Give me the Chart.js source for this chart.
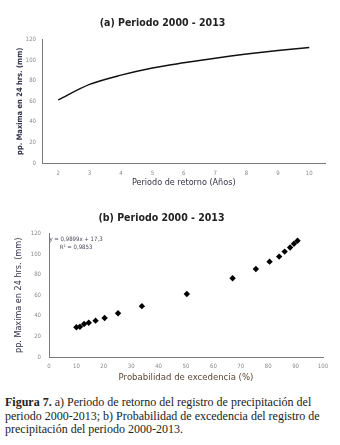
<!DOCTYPE html>
<html>
<head>
<meta charset="utf-8">
<script src="https://cdn.jsdelivr.net/npm/chart.js@4/dist/chart.umd.min.js"></script>
<style>
  body { margin: 0; background: #fff; width: 340px; height: 445px; overflow: hidden; position: relative; }
  #wrapA { position: absolute; left: 0; top: 0; width: 340px; height: 195px; }
  #wrapB { position: absolute; left: 0; top: 195px; width: 340px; height: 190px; }
  #caption {
    position: absolute; left: 5px; top: 396px; width: 335px; white-space: nowrap;
    font-family: 'Liberation Serif', serif; font-size: 12px; line-height: 13.5px; color: #222;
  }
  #caption b { font-weight: bold; }
</style>
</head>
<body>
<div id="wrapA"><canvas id="chartA"></canvas></div>
<div id="wrapB"><canvas id="chartB"></canvas></div>
<div id="caption"><b>Figura 7.</b> a) Periodo de retorno del registro de precipitación del<br>periodo 2000-2013; b) Probabilidad de excedencia del registro de<br>precipitación del periodo 2000-2013.</div>
<script>
// (a) periodo de retorno
const returnPeriods = [2, 3, 4, 5, 6, 7, 8, 9, 10]
const returnPrecip = [61.5, 76.5, 85.5, 92.5, 97.5, 102, 106, 109.5, 112.5]

// (b) probabilidad de excedencia
const exceedProb = [10, 11.3, 12.8, 14.5, 17, 20.3, 25.2, 33.9, 50.3, 67, 75.5, 80.5, 84, 86, 88, 89.4, 90.7]
const exceedPrecip = [28.9, 29.5, 32.1, 33.4, 35.4, 38, 42.6, 49.5, 61.3, 76.7, 85.6, 92.8, 97.7, 102.6, 106.6, 110.2, 113.1]

const yTicks = [0, 20, 40, 60, 80, 100, 120]
const equationLines = ['y = 0,9899x + 17,3', 'R² = 0,9853']

const narrow = "'DejaVu Sans Condensed', 'Liberation Sans Narrow', sans-serif"
const tickColor = '#8a8a8a'
const axisColor = '#7a7a7a'

Chart.defaults.font.family = narrow
Chart.defaults.animation = false

function fixWidth(w) { return function (scale) { scale.width = w } }
function fixHeight(h) { return function (scale) { scale.height = h } }

new Chart(document.getElementById('chartA'), {
  type: 'line',
  data: {
    labels: returnPeriods,
    datasets: [{
      data: returnPrecip,
      borderColor: '#111',
      borderWidth: 1.5,
      pointRadius: 0,
      tension: 0.3,
      fill: false
    }]
  },
  options: {
    responsive: true,
    maintainAspectRatio: false,
    layout: { padding: { left: 0, right: 15, top: 0, bottom: 0 } },
    scales: {
      x: {
        type: 'category',
        offset: true,
        grid: { display: false, drawTicks: false },
        border: { display: true, color: axisColor, width: 1 },
        ticks: { color: tickColor, font: { size: 6 }, padding: 6.4, maxRotation: 0 },
        title: {
          display: true,
          text: 'Periodo de retorno (Años)',
          color: '#33334a',
          font: { size: 9 },
          padding: { top: 0, bottom: 6.5 }
        },
        afterFit: fixHeight(32)
      },
      y: {
        min: 0,
        max: 120,
        afterBuildTicks: function (scale) { scale.ticks = yTicks.map(v => ({ value: v })) },
        grid: { display: false, drawTicks: false },
        border: { display: true, color: axisColor, width: 1 },
        ticks: { color: tickColor, font: { size: 6 }, padding: 6.5 },
        title: {
          display: true,
          text: 'pp. Maxima en 24 hrs. (mm)',
          color: '#33334a',
          font: { size: 7.5, weight: 'bold' },
          padding: { top: 15.5, bottom: 0 }
        },
        afterFit: fixWidth(42.5)
      }
    },
    plugins: {
      legend: { display: false },
      tooltip: { enabled: false },
      title: {
        display: true,
        text: '(a) Periodo 2000 - 2013',
        color: '#222',
        font: { size: 10.5, weight: 'bold' },
        padding: { top: 16.5, bottom: 10.6 }
      }
    }
  }
})

// regression label drawn inside plot (b)
const equationLabel = {
  id: 'equationLabel',
  afterDraw(chart) {
    const ctx = chart.ctx
    const area = chart.chartArea
    ctx.save()
    ctx.font = '6px ' + narrow
    ctx.fillStyle = '#4a4a5e'
    ctx.textAlign = 'center'
    ctx.textBaseline = 'middle'
    ctx.fillText(equationLines[0], area.left + 27, area.top + 6)
    ctx.fillText(equationLines[1], area.left + 27, area.top + 14)
    ctx.restore()
  }
}

new Chart(document.getElementById('chartB'), {
  type: 'scatter',
  data: {
    datasets: [{
      data: exceedProb.map((p, i) => ({ x: p, y: exceedPrecip[i] })),
      pointStyle: 'rectRot',
      pointRadius: 3.2,
      backgroundColor: '#000',
      borderColor: '#000',
      borderWidth: 0
    }]
  },
  options: {
    responsive: true,
    maintainAspectRatio: false,
    layout: { padding: { left: 0, right: 17, top: 0, bottom: 0 } },
    scales: {
      x: {
        type: 'linear',
        min: 0,
        max: 100,
        grid: { display: false, drawTicks: false },
        border: { display: true, color: axisColor, width: 1 },
        ticks: { color: tickColor, font: { size: 6 }, padding: 5.4, stepSize: 10, maxRotation: 0 },
        title: {
          display: true,
          text: 'Probabilidad de excedencia (%)',
          color: '#5a4634',
          font: { size: 9.5 },
          padding: { top: 0, bottom: 2 }
        },
        afterFit: fixHeight(28)
      },
      y: {
        min: 0,
        max: 120,
        afterBuildTicks: function (scale) { scale.ticks = yTicks.map(v => ({ value: v })) },
        grid: { display: false, drawTicks: false },
        border: { display: true, color: axisColor, width: 1 },
        ticks: { color: tickColor, font: { size: 6 }, padding: 8 },
        title: {
          display: true,
          text: 'pp. Maxima en 24 hrs. (mm)',
          color: '#33334a',
          font: { size: 9 },
          padding: { top: 13, bottom: 0 }
        },
        afterFit: fixWidth(49)
      }
    },
    plugins: {
      legend: { display: false },
      tooltip: { enabled: false },
      title: {
        display: true,
        text: '(b) Periodo 2000 - 2013',
        color: '#222',
        font: { size: 10.5, weight: 'bold' },
        padding: { top: 16.5, bottom: 9.6 }
      }
    }
  },
  plugins: [equationLabel]
})
</script>
</body>
</html>
